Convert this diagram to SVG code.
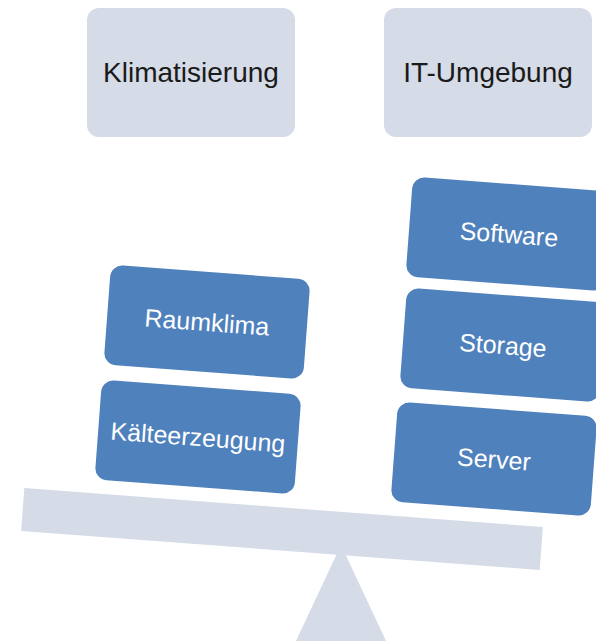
<svg xmlns="http://www.w3.org/2000/svg" width="596" height="641" viewBox="0 0 596 641">
<style>
.top rect{fill:#D5DBE7;}
.top text{font-family:"Liberation Sans",Arial,sans-serif;font-size:28px;fill:#1a1a1a;text-anchor:middle;}
.blk rect{fill:#4F81BD;}
.blk text{font-family:"Liberation Sans",Arial,sans-serif;font-size:25px;fill:#ffffff;text-anchor:middle;}
.scale{fill:#D5DBE7;}
</style>
<rect width="596" height="641" fill="#ffffff"/>
<g id="klimatisierung" class="top">
<rect x="87" y="8" width="208" height="129" rx="12"/>
<text x="191" y="82">Klimatisierung</text>
</g>
<g id="it-umgebung" class="top">
<rect x="384" y="8" width="208" height="129" rx="12"/>
<text x="488" y="82">IT-Umgebung</text>
</g>
<g id="scale">
<rect class="scale" x="-260" y="-21.5" width="520" height="43" transform="translate(282 529) rotate(4.3)"/>
<polygon class="scale" points="341,545 386,641 296,641"/>
</g>
<g id="raumklima" class="blk" transform="translate(207 322) rotate(4.3)">
<rect x="-100" y="-50" width="200" height="100" rx="12"/>
<text x="0" y="9">Raumklima</text>
</g>
<g id="kaelteerzeugung" class="blk" transform="translate(198 437) rotate(4.3)">
<rect x="-100" y="-50" width="200" height="100" rx="12"/>
<text x="0" y="9">Kälteerzeugung</text>
</g>
<g id="software" class="blk" transform="translate(509 234) rotate(4.3)">
<rect x="-100" y="-50" width="200" height="100" rx="12"/>
<text x="0" y="9">Software</text>
</g>
<g id="storage" class="blk" transform="translate(503 345) rotate(4.3)">
<rect x="-100" y="-50" width="200" height="100" rx="12"/>
<text x="0" y="9">Storage</text>
</g>
<g id="server" class="blk" transform="translate(494 459) rotate(4.3)">
<rect x="-100" y="-50" width="200" height="100" rx="12"/>
<text x="0" y="9">Server</text>
</g>
<g id="connectors"/>
</svg>
